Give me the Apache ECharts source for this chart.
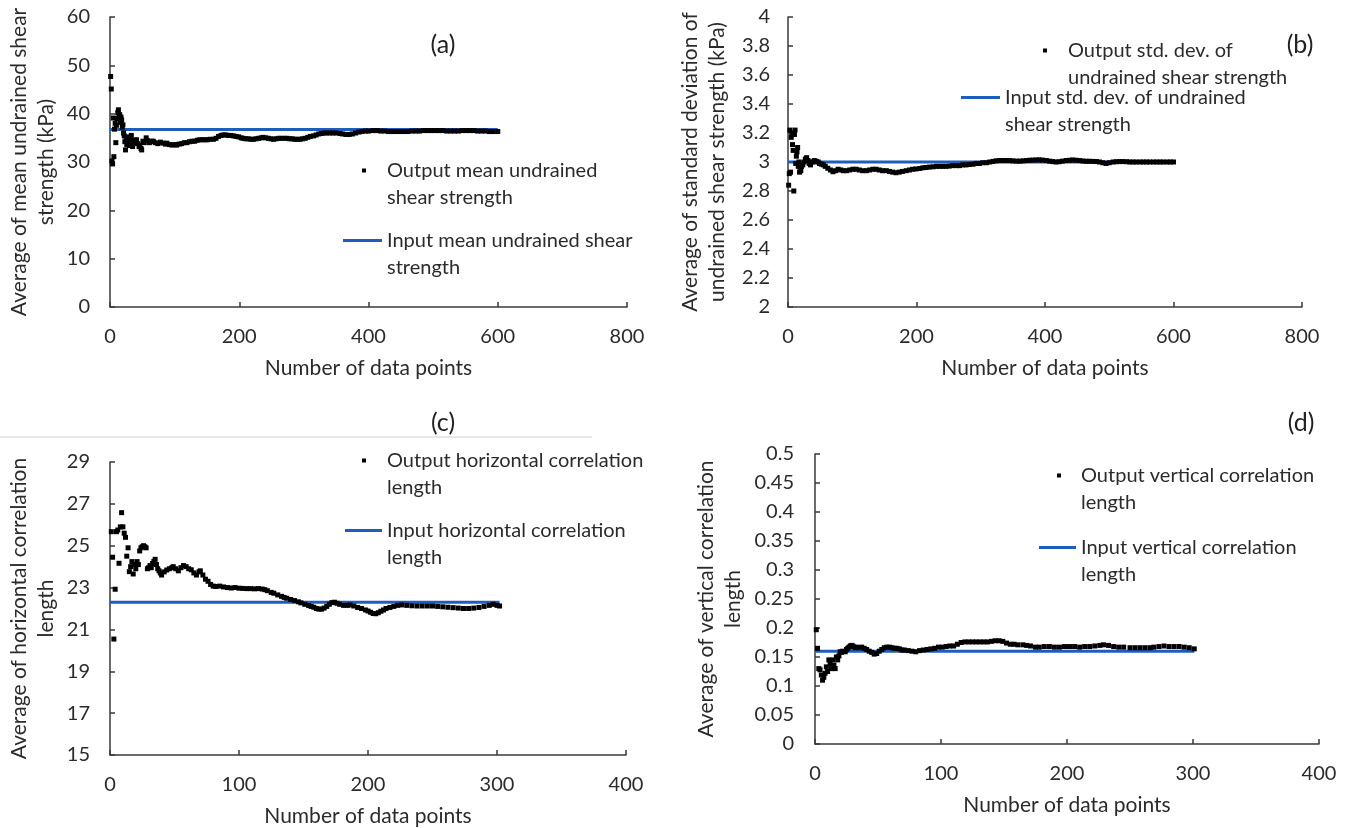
<!DOCTYPE html>
<html><head><meta charset="utf-8">
<script src="https://cdn.jsdelivr.net/npm/echarts@6/dist/echarts.min.js"></script>
<style>html,body{margin:0;padding:0;background:#fff}#c{width:1351px;height:828px}</style>
</head><body><div id="c"></div>
<script>
// ---------- DATA ----------
const xLabel = 'Number of data points';

// (a) mean undrained shear strength
const meanOut = [[1,47.7],[2,45.1],[3,30.2],[4,29.6],[5,39.1],[6,31.1],[7,36.8],[8,38.0],[9,34.0],[10,37.6],[11,39.0],[12,40.2],[13,40.8],[14,39.4],[15,39.8],[16,38.2],[17,39.3],[18,38.7],[19,37.2],[20,37.7],[21,36.0],[22,35.4],[23,34.2],[24,32.5],[25,34.8],[26,33.6],[27,35.0],[28,35.2],[29,34.1],[30,33.4],[31,34.6],[32,34.0],[33,35.5],[34,34.4],[35,33.2],[36,33.9],[38,34.5],[40,34.0],[41,34.6],[43,33.8],[45,33.2],[46,33.5],[48,32.8],[49,32.5],[51,34.3],[53,34.0],[56,35.0],[58,34.4],[61,34.0],[64,34.3],[67,34.3],[70,34.0],[74,33.8],[78,34.1],[82,33.9],[86,33.7],[88,33.9],[92,33.6],[96,33.5],[100,33.6],[103,33.5],[107,33.7],[111,33.8],[115,34.0],[119,34.0],[123,34.2],[127,34.3],[131,34.3],[135,34.5],[139,34.6],[143,34.6],[147,34.6],[151,34.6],[155,34.7],[160,34.7],[164,34.9],[168,35.3],[172,35.5],[175,35.6],[179,35.6],[183,35.5],[187,35.5],[191,35.4],[195,35.3],[199,35.2],[203,35.0],[206,34.9],[210,34.8],[214,34.8],[218,34.7],[222,34.7],[226,34.8],[230,34.9],[234,35.0],[237,35.1],[241,35.0],[245,34.9],[249,34.8],[253,34.7],[257,34.8],[261,34.9],[265,34.9],[270,34.9],[274,34.9],[278,34.8],[282,34.8],[286,34.7],[290,34.7],[294,34.7],[298,34.8],[302,34.9],[306,35.1],[310,35.3],[315,35.4],[319,35.6],[323,35.8],[327,35.9],[331,36.0],[335,36.0],[340,36.0],[345,36.0],[350,36.0],[356,35.9],[360,35.8],[365,35.7],[370,35.7],[375,35.8],[380,36.0],[385,36.2],[390,36.3],[395,36.4],[400,36.4],[407,36.5],[413,36.5],[419,36.4],[425,36.4],[431,36.3],[437,36.3],[443,36.3],[449,36.3],[455,36.3],[461,36.3],[467,36.4],[473,36.4],[479,36.4],[485,36.5],[491,36.5],[497,36.5],[503,36.5],[509,36.5],[515,36.5],[521,36.4],[527,36.4],[533,36.4],[539,36.4],[545,36.5],[551,36.5],[557,36.5],[563,36.5],[569,36.4],[575,36.4],[581,36.4],[587,36.3],[593,36.3],[600,36.3]];
const meanIn = [[0,36.7],[600,36.7]];

// (b) std. dev. of undrained shear strength
const sdOut = [[1,2.84],[2,2.92],[3,3.22],[4,2.93],[5,3.17],[6,3.20],[7,3.12],[8,3.08],[9,2.80],[10,3.19],[11,3.22],[12,2.99],[13,3.04],[14,3.07],[15,3.10],[16,2.97],[17,3.0],[18,2.93],[19,2.96],[20,2.94],[21,2.97],[23,2.98],[25,3.0],[27,3.02],[29,3.03],[31,3.01],[33,2.99],[35,2.98],[37,3.0],[39,3.0],[41,3.01],[44,3.005],[47,3.0],[49,2.99],[52,2.985],[55,2.98],[58,2.97],[62,2.957],[66,2.945],[70,2.933],[74,2.94],[78,2.95],[82,2.945],[86,2.94],[91,2.94],[96,2.945],[101,2.95],[106,2.95],[111,2.945],[116,2.94],[122,2.94],[127,2.945],[132,2.95],[137,2.95],[142,2.945],[147,2.94],[153,2.94],[158,2.935],[163,2.93],[168,2.926],[173,2.93],[178,2.935],[184,2.94],[189,2.945],[194,2.95],[199,2.952],[205,2.955],[210,2.96],[215,2.962],[220,2.965],[226,2.967],[231,2.97],[236,2.97],[241,2.97],[246,2.97],[251,2.972],[256,2.975],[262,2.975],[267,2.975],[272,2.98],[277,2.98],[282,2.983],[288,2.985],[293,2.99],[298,2.99],[303,2.995],[309,2.995],[314,3.0],[319,3.004],[324,3.008],[329,3.01],[335,3.01],[340,3.01],[345,3.01],[350,3.008],[356,3.006],[361,3.006],[366,3.008],[371,3.01],[376,3.012],[381,3.013],[386,3.014],[391,3.015],[396,3.013],[402,3.01],[407,3.006],[412,3.003],[417,3.0],[422,3.002],[427,3.006],[433,3.01],[438,3.012],[443,3.014],[448,3.012],[454,3.01],[459,3.007],[464,3.005],[469,3.005],[475,3.004],[480,3.003],[485,3.0],[490,2.995],[495,2.99],[500,2.995],[506,3.0],[511,3.002],[516,3.003],[521,3.003],[527,3.002],[532,3.0],[537,3.0],[542,3.0],[548,3.0],[553,3.0],[558,3.0],[563,3.0],[569,3.0],[574,3.0],[579,3.0],[584,3.0],[590,3.0],[595,3.0],[600,3.0]];
const sdIn = [[0,3.0],[600,3.0]];

// (c) horizontal correlation length
const hOut = [[1,25.67],[2,24.45],[3,20.54],[4,22.92],[5,25.67],[6,25.75],[7,24.16],[8,25.9],[9,26.58],[10,25.9],[11,25.6],[12,25.4],[13,24.5],[14,24.9],[15,23.76],[16,24.0],[17,24.24],[18,23.65],[19,24.1],[20,23.9],[21,24.24],[22,24.1],[23,24.75],[24,24.9],[25,24.95],[26,25.0],[27,24.95],[28,24.9],[29,23.9],[30,23.95],[31,24.05],[32,23.95],[33,24.15],[34,24.25],[35,24.35],[36,24.1],[37,23.9],[38,23.8],[39,23.7],[40,23.6],[42,23.75],[44,23.84],[46,23.9],[48,23.95],[49,24.0],[51,23.9],[53,23.8],[55,23.95],[57,24.05],[59,24.0],[61,23.9],[63,23.85],[65,23.7],[67,23.6],[69,23.75],[70,23.8],[72,23.6],[74,23.4],[76,23.3],[78,23.15],[80,23.07],[82,23.05],[85,23.07],[88,23.03],[91,23.0],[94,22.98],[97,23.0],[100,22.97],[103,22.96],[106,22.95],[109,22.95],[112,22.94],[115,22.95],[118,22.93],[120,22.9],[122,22.85],[125,22.77],[127,22.73],[130,22.65],[133,22.58],[135,22.53],[137,22.49],[140,22.43],[143,22.38],[146,22.32],[148,22.27],[151,22.2],[154,22.14],[156,22.1],[158,22.06],[160,22.0],[162,21.97],[164,21.97],[166,22.02],[168,22.1],[170,22.2],[172,22.28],[174,22.3],[176,22.25],[178,22.2],[181,22.15],[184,22.15],[186,22.17],[189,22.12],[192,22.05],[195,22.0],[198,21.93],[200,21.88],[202,21.82],[204,21.76],[206,21.75],[208,21.8],[210,21.87],[212,21.93],[214,22.0],[217,22.05],[220,22.1],[223,22.15],[226,22.17],[230,22.15],[234,22.13],[238,22.12],[242,22.12],[246,22.12],[250,22.12],[254,22.1],[258,22.08],[262,22.06],[266,22.04],[270,22.02],[274,22.0],[278,22.0],[282,22.02],[286,22.05],[290,22.1],[294,22.15],[297,22.2],[300,22.15],[302,22.12]];
const hIn = [[0,22.3],[302,22.3]];

// (d) vertical correlation length
const vOut = [[1,0.197],[2,0.165],[3,0.13],[4,0.128],[5,0.119],[6,0.11],[7,0.115],[8,0.122],[9,0.133],[10,0.125],[11,0.145],[12,0.138],[13,0.13],[14,0.145],[15,0.136],[16,0.13],[17,0.15],[18,0.145],[19,0.152],[20,0.159],[21,0.158],[22,0.16],[24,0.159],[25,0.163],[26,0.165],[27,0.167],[28,0.169],[29,0.17],[30,0.169],[31,0.167],[32,0.166],[33,0.167],[35,0.166],[37,0.167],[39,0.165],[41,0.163],[43,0.16],[45,0.158],[47,0.155],[49,0.156],[51,0.16],[53,0.163],[55,0.166],[57,0.167],[59,0.167],[61,0.166],[63,0.165],[65,0.165],[67,0.164],[69,0.162],[71,0.162],[74,0.161],[77,0.16],[80,0.159],[83,0.161],[86,0.162],[89,0.163],[92,0.164],[95,0.165],[98,0.167],[101,0.167],[104,0.168],[107,0.169],[110,0.169],[113,0.172],[116,0.175],[119,0.176],[122,0.176],[125,0.176],[128,0.176],[131,0.176],[134,0.176],[137,0.176],[140,0.177],[143,0.178],[146,0.178],[149,0.177],[152,0.174],[155,0.172],[158,0.172],[161,0.171],[165,0.171],[168,0.17],[171,0.169],[175,0.167],[178,0.167],[182,0.168],[186,0.168],[190,0.167],[194,0.167],[198,0.168],[202,0.168],[206,0.168],[210,0.167],[214,0.168],[218,0.168],[222,0.169],[226,0.17],[229,0.171],[233,0.17],[237,0.168],[241,0.167],[245,0.167],[250,0.166],[254,0.166],[258,0.166],[262,0.166],[266,0.166],[269,0.167],[273,0.168],[277,0.169],[281,0.168],[285,0.168],[289,0.168],[293,0.167],[297,0.166],[301,0.164]];
const vIn = [[0,0.16],[301,0.16]];

const panelTags = ['(a)', '(b)', '(c)', '(d)'];
const yNames = [
  'Average of mean undrained shear\nstrength (kPa)',
  'Average of standard deviation of\nundrained shear strength (kPa)',
  'Average of horizontal correlation\nlength',
  'Average of vertical correlation\nlength'
];
const outNames = ['Output mean undrained shear strength', 'Output std. dev. of undrained shear strength', 'Output horizontal correlation length', 'Output vertical correlation length'];
const inNames = ['Input mean undrained shear strength', 'Input std. dev. of undrained shear strength', 'Input horizontal correlation length', 'Input vertical correlation length'];
const outLegend = ['Output mean undrained\nshear strength', 'Output std. dev. of\nundrained shear strength', 'Output horizontal correlation\nlength', 'Output vertical correlation\nlength'];
const inLegend = ['Input mean undrained shear\nstrength', 'Input std. dev. of undrained\nshear strength', 'Input horizontal correlation\nlength', 'Input vertical correlation\nlength'];
const xRanges = [[0, 800, 200], [0, 800, 200], [0, 400, 100], [0, 400, 100]];
const yRanges = [[0, 60, 10], [2, 4, 0.2], [15, 29, 2], [0, 0.5, 0.05]];
const outData = [meanOut, sdOut, hOut, vOut];
const inData = [meanIn, sdIn, hIn, vIn];

// ---------- LAYOUT / STYLE ----------
const FONT = 'Lato, "Open Sans", sans-serif';
const TXT = '#2b2b2b';
const AX = '#3a3a3a';
const BLUE = '#1F5CC0';
const grids = [
  {left: 110, top: 17, width: 517, height: 290},
  {left: 788, top: 17, width: 514, height: 290},
  {left: 110, top: 462, width: 516, height: 293},
  {left: 815, top: 454, width: 504, height: 290}
];
const yNameGap = [50, 57, 50, 68];
const yLabelMargin = [20, 18, 20, 21];
const tagPos = [[443, 45], [1300, 45], [443, 423], [1301, 423]];
const outLegPos = [[362, 130, 16], [1043, 10, 16], [362, 420, 16], [1057, 435, 15]];
const inLegPos = [[343, 200, 39], [961, 57, 39], [345, 490, 37], [1039, 507, 37]];

const chart = echarts.init(document.getElementById('c'), null, {renderer: 'canvas'});
const option = {
  animation: false,
  backgroundColor: '#fff',
  textStyle: {fontFamily: FONT},
  grid: grids.map(g => Object.assign({outerBoundsMode: 'none', containLabel: false}, g)),
  xAxis: grids.map((g, i) => ({
    type: 'value', gridIndex: i,
    min: xRanges[i][0], max: xRanges[i][1], interval: xRanges[i][2],
    name: xLabel, nameLocation: 'middle', nameGap: 51,
    nameTextStyle: {fontSize: 21, color: TXT, fontFamily: FONT},
    axisLine: {show: true, lineStyle: {color: AX, width: 1.5}},
    axisTick: {show: true, inside: true, length: 5, lineStyle: {color: AX, width: 1.5}},
    axisLabel: {fontSize: 20, color: TXT, margin: 20, fontFamily: FONT},
    splitLine: {show: false}
  })),
  yAxis: grids.map((g, i) => ({
    type: 'value', gridIndex: i,
    min: yRanges[i][0], max: yRanges[i][1], interval: yRanges[i][2],
    name: yNames[i], nameLocation: 'middle', nameGap: yNameGap[i],
    nameTextStyle: {fontSize: 21, color: TXT, lineHeight: 27, fontFamily: FONT},
    axisLine: {show: true, lineStyle: {color: AX, width: 1.5}},
    axisTick: {show: true, inside: true, length: 5, lineStyle: {color: AX, width: 1.5}},
    axisLabel: {fontSize: 20, color: TXT, margin: yLabelMargin[i], fontFamily: FONT},
    splitLine: {show: false}
  })),
  legend: [].concat(
    outLegPos.map((p, i) => ({
      data: [{name: outNames[i], icon: 'rect'}], orient: 'vertical', left: p[0], top: p[1], padding: 0,
      itemWidth: 4, itemHeight: 4, selectedMode: false,
      formatter: '\n' + outLegend[i],
      textStyle: {fontSize: 20, color: TXT, lineHeight: 27, fontFamily: FONT, padding: [0, 0, 0, p[2]]}
    })),
    inLegPos.map((p, i) => ({
      data: [{name: inNames[i], icon: 'rect'}], orient: 'vertical', left: p[0], top: p[1], padding: 0,
      itemWidth: p[2], itemHeight: 3, selectedMode: false,
      formatter: '\n' + inLegend[i],
      textStyle: {fontSize: 20, color: TXT, lineHeight: 27, fontFamily: FONT}
    }))
  ),
  series: [].concat(
    inData.map((d, i) => ({
      name: inNames[i], type: 'line', xAxisIndex: i, yAxisIndex: i, data: d,
      symbol: 'none', lineStyle: {color: BLUE, width: 3}, itemStyle: {color: BLUE}, z: 2
    })),
    outData.map((d, i) => ({
      name: outNames[i], type: 'scatter', xAxisIndex: i, yAxisIndex: i, data: d,
      symbol: 'rect', symbolSize: 5, itemStyle: {color: '#000', opacity: 1}, z: 3
    }))
  ),
  graphic: [].concat(
    tagPos.map((p, i) => ({
      type: 'text', x: p[0], y: p[1],
      style: {text: panelTags[i], font: '25px ' + FONT, fill: '#222', align: 'center', verticalAlign: 'middle'}
    })),
    [{type: 'line', shape: {x1: 0, y1: 437, x2: 592, y2: 437}, style: {stroke: '#cfcfcf', lineWidth: 1}}]
  )
};
chart.setOption(option);
</script></body></html>
